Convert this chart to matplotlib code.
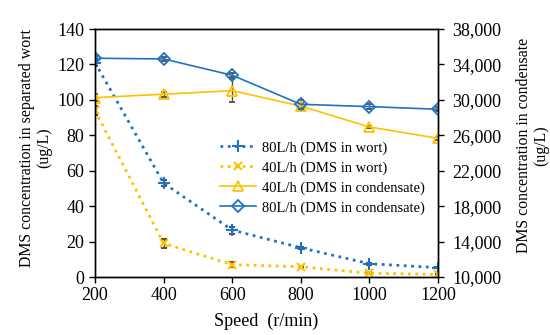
import matplotlib
matplotlib.use("Agg")
import matplotlib.pyplot as plt
from matplotlib.ticker import FuncFormatter, MultipleLocator, FixedLocator
from matplotlib.lines import Line2D

plt.rcParams['font.family'] = ['Liberation Serif', 'DejaVu Serif']

speed = [200, 400, 600, 800, 1000, 1200]
wort80 = [121, 53, 26.5, 16.5, 7.5, 5.3]
wort80_err = [2, 1.5, 2, 0.6, 0.6, 0.4]
wort40 = [94, 19, 7, 5.8, 2.1, 1.5]
wort40_err = [2.5, 2.5, 1.5, 0.6, 0.6, 0.5]
cond40 = [30250, 30640, 31040, 29300, 26940, 25660]
cond40_err = [400, 300, 1300, 300, 150, 150]
cond80 = [34700, 34620, 32780, 29500, 29240, 28940]
cond80_err = [300, 200, 250, 500, 250, 200]
right_ticks = [10000, 14000, 18000, 22000, 26000, 30000, 34000, 38000]

labels = ["80L/h (DMS in wort)", "40L/h (DMS in wort)",
          "40L/h (DMS in condensate)", "80L/h (DMS in condensate)"]

blue = '#1F73C4'
orange = '#FFC000'
errc = '#505050'

fig = plt.figure(figsize=(5.5, 3.35), dpi=100)
ax = fig.add_axes([0.1727, 0.1731, 0.6237, 0.7403])
ax2 = ax.twinx()

ekw = dict(ecolor=errc, elinewidth=1.0, capsize=2.5, capthick=1.0)
st1 = dict(color=blue, ls=':', lw=2.0, marker='+', ms=8, mew=1.5)
st2 = dict(color=orange, ls=':', lw=2.0, marker='x', ms=6, mew=1.5)
st3 = dict(color=orange, ls='-', lw=1.2, marker='^', ms=7, mfc='none', mew=1.3)
st4 = dict(color=blue, ls='-', lw=1.2, marker='D', ms=6.5, mfc='none', mew=1.3)

ax.errorbar(speed, wort80, yerr=wort80_err, **st1, **ekw)
ax.errorbar(speed, wort40, yerr=wort40_err, **st2, **ekw)
ax2.errorbar(speed, cond40, yerr=cond40_err, **st3, **ekw)
ax2.errorbar(speed, cond80, yerr=cond80_err, **st4, **ekw)

ax.set_xlim(200, 1200)
ax.set_ylim(0, 140)
ax.yaxis.set_major_locator(MultipleLocator(20))
ax.xaxis.set_major_locator(MultipleLocator(200))
ax2.set_ylim(10000, 38000)
ax2.yaxis.set_major_locator(FixedLocator(right_ticks))
ax2.yaxis.set_major_formatter(FuncFormatter(lambda v, p: f"{int(v):,}"))

for a in (ax, ax2):
    a.tick_params(direction='out', length=4, width=1, labelsize=13, colors='black')
    for s in a.spines.values():
        s.set_linewidth(1.0)
        s.set_color('black')
ax2.tick_params(pad=6)

ax.set_xlabel("Speed\u2002(r/min)", fontsize=13, labelpad=6)
ax.set_ylabel("DMS concentration in separated wort\n(ug/L)", fontsize=11.4, linespacing=1.1)
ax2.set_ylabel("DMS concentration in condensate\n(ug/L)", fontsize=11.4, linespacing=1.1,
               labelpad=11)
ax.yaxis.label.set_y(0.52)
ax2.yaxis.label.set_y(0.53)

handles = [Line2D([], [], **s) for s in (st1, st2, st3, st4)]
leg = ax.legend(handles, labels, loc='upper left',
                bbox_to_anchor=(0.355, 0.56), frameon=False, fontsize=10.5,
                handlelength=2.5, handletextpad=0.4, labelspacing=0.45,
                borderpad=0.2, borderaxespad=0)
leg.set_zorder(20)

fig.savefig("out.png", dpi=100)
